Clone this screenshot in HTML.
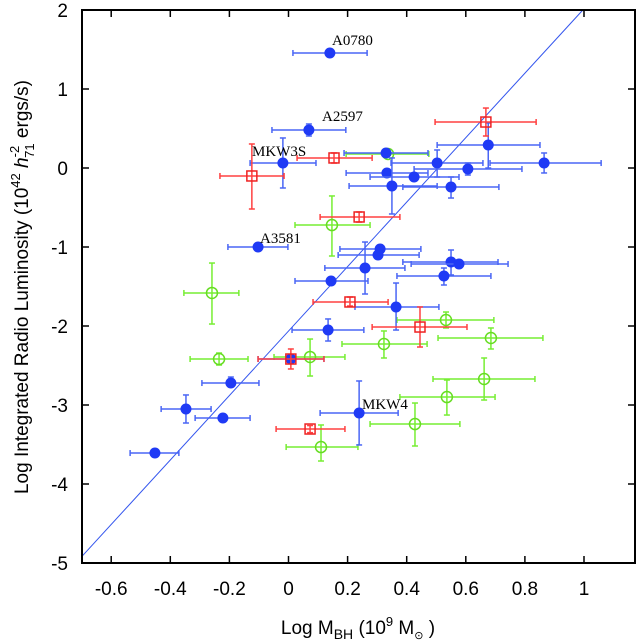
<!DOCTYPE html>
<html><head><meta charset="utf-8"><style>
body{margin:0;background:#fff}
svg{display:block;font-family:"Liberation Sans",sans-serif}
</style></head><body>
<svg id="chart" width="637" height="641" viewBox="0 0 637 641">
<rect x="0" y="0" width="637" height="641" fill="#fff"/>
<g id="ticks"></g>
<g id="fit"></g>
<g id="marks"></g>
<rect x="82" y="10" width="553" height="553" fill="none" stroke="#000" stroke-width="2"/>
<g font-family="Liberation Serif,serif" font-size="15" fill="#000">
<text x="332" y="45">A0780</text>
<text x="322" y="121">A2597</text>
<text x="252" y="156">MKW3S</text>
<text x="260" y="243">A3581</text>
<text x="362" y="409">MKW4</text>
</g>
<text x="358" y="634" text-anchor="middle" font-size="19">Log M<tspan font-size="14" dy="5">BH</tspan><tspan dy="-5"> (10</tspan><tspan font-size="13" dy="-8">9</tspan><tspan dy="8"> M</tspan><tspan font-size="11" dy="5">⊙</tspan><tspan dy="-5"> )</tspan></text>
<text transform="translate(28,287) rotate(-90)" text-anchor="middle" font-size="19">Log Integrated Radio Luminosity (10<tspan font-size="13" dy="-8">42</tspan><tspan dy="8" font-style="italic"> h</tspan><tspan font-size="13" dy="-9">-2</tspan><tspan font-size="13" dx="-12" dy="15">71</tspan><tspan dy="-6"> ergs/s)</tspan></text>
</svg>
<script>
const xTicks=[-0.6,-0.4,-0.2,0,0.2,0.4,0.6,0.8,1];
const xTickLabels=["-0.6","-0.4","-0.2","0","0.2","0.4","0.6","0.8","1"];
const yTicks=[2,1,0,-1,-2,-3,-4,-5];
const yTickLabels=["2","1","0","-1","-2","-3","-4","-5"];
const fitSlope=4.08, fitIntercept=-2.064;
// [x, y, xlo, xhi, ylo, yhi]
const blueData=[
[0.140,1.456,0.015,0.266,1.42,1.49],[0.069,0.481,-0.056,0.194,0.405,0.557],[-0.019,0.063,-0.130,0.093,-0.253,0.380],
[0.330,0.190,0.188,0.472,0.17,0.21],[0.676,0.291,0.503,0.851,0.0,0.570],[0.503,0.063,0.347,0.658,-0.114,0.228],
[0.865,0.063,0.682,1.058,-0.063,0.19],[0.607,-0.013,0.425,0.790,-0.089,0.063],[0.333,-0.063,0.195,0.472,-0.063,-0.063],
[0.425,-0.114,0.276,0.577,-0.114,-0.114],[0.350,-0.228,0.205,0.503,-0.582,0.127],[0.550,-0.241,0.387,0.712,-0.380,-0.114],
[-0.103,-1.0,-0.205,-0.002,-1.0,-1.0],[0.310,-1.025,0.174,0.448,-1.025,-1.025],[0.303,-1.101,0.168,0.442,-1.101,-1.101],
[0.259,-1.266,0.123,0.394,-1.595,-0.937],[0.550,-1.190,0.387,0.709,-1.354,-1.038],[0.577,-1.215,0.415,0.743,-1.215,-1.215],
[0.526,-1.367,0.367,0.685,-1.481,-1.266],[0.144,-1.430,0.022,0.269,-1.430,-1.430],[0.364,-1.759,0.225,0.509,-2.051,-1.456],
[0.134,-2.051,0.012,0.255,-2.19,-1.911],[0.008,-2.418,-0.103,0.120,-2.418,-2.418],[-0.195,-2.722,-0.293,-0.100,-2.759,-2.646],
[-0.347,-3.051,-0.431,-0.262,-3.228,-2.873],[-0.222,-3.165,-0.316,-0.130,-3.165,-3.165],[-0.452,-3.608,-0.536,-0.371,-3.608,-3.608],
[0.239,-3.101,0.107,0.371,-3.506,-2.696]];
const redData=[
[-0.124,-0.101,-0.232,-0.015,-0.519,0.304],[0.154,0.127,0.029,0.283,0.063,0.19],[0.668,0.582,0.496,0.838,0.405,0.759],
[0.239,-0.620,0.107,0.377,-0.684,-0.557],[0.208,-1.696,0.083,0.337,-1.747,-1.633],[0.008,-2.418,-0.103,0.120,-2.544,-2.291],
[0.445,-2.013,0.283,0.604,-2.266,-1.759],[0.073,-3.304,-0.042,0.191,-3.35,-3.26]];
const greenData=[
[0.337,0.177,0.195,0.475,0.16,0.2],[0.147,-0.722,0.022,0.276,-1.114,-0.354],[-0.259,-1.582,-0.354,-0.168,-1.975,-1.203],
[-0.235,-2.418,-0.333,-0.137,-2.494,-2.342],[0.073,-2.392,-0.049,0.191,-2.633,-2.165],[0.323,-2.228,0.181,0.469,-2.405,-2.063],
[0.533,-1.924,0.367,0.695,-2.025,-1.823],[0.685,-2.152,0.506,0.861,-2.291,-2.025],[0.662,-2.671,0.489,0.834,-2.937,-2.405],
[0.536,-2.899,0.377,0.699,-3.127,-2.684],[0.428,-3.241,0.276,0.580,-3.519,-2.975],[0.110,-3.532,-0.008,0.235,-3.709,-3.253]];

const NS="http://www.w3.org/2000/svg";
const X=v=>288.5+v*295.5, Y=v=>168-v*79;
function mk(tag,attrs,parent){const e=document.createElementNS(NS,tag);for(const k in attrs)e.setAttribute(k,attrs[k]);parent.appendChild(e);return e;}
const tg=document.getElementById('ticks');
xTicks.forEach((t,i)=>{
  const a=mk('line',{x1:X(t),x2:X(t),y1:563,y2:556,stroke:'#000','stroke-width':1.5},tg);
  
  
  const b=mk('line',{x1:X(t),x2:X(t),y1:10,y2:17,stroke:'#000','stroke-width':1.5},tg);
  
  
  const l=mk('text',{x:X(t),y:595,'text-anchor':'middle','font-size':19},tg);
  l.textContent=xTickLabels[i];
  
  
});
yTicks.forEach((t,i)=>{
  const a=mk('line',{x1:82,x2:89,y1:Y(t),y2:Y(t),stroke:'#000','stroke-width':1.5},tg);
  
  
  const b=mk('line',{x1:635,x2:628,y1:Y(t),y2:Y(t),stroke:'#000','stroke-width':1.5},tg);
  
  
  const l=mk('text',{x:68,y:Y(t)+7,'text-anchor':'end','font-size':19},tg);
  l.textContent=yTickLabels[i];
  
  
});
const fg=document.getElementById('fit');
const xa=-0.7, xb=(2-fitIntercept)/fitSlope;
const fl=mk('line',{x1:X(xa),y1:Y(fitSlope*xa+fitIntercept),x2:X(xb),y2:Y(2),stroke:'#3355ee','stroke-width':1},fg);


const mg=document.getElementById('marks');
function errbars(g,d,col){
  const cx=X(d[0]),cy=Y(d[1]);
  mk('line',{x1:X(d[2]),x2:X(d[3]),y1:cy,y2:cy,stroke:col,'stroke-width':1.5},g);
  mk('line',{x1:X(d[2]),x2:X(d[2]),y1:cy-3,y2:cy+3,stroke:col,'stroke-width':1.5},g);
  mk('line',{x1:X(d[3]),x2:X(d[3]),y1:cy-3,y2:cy+3,stroke:col,'stroke-width':1.5},g);
  if(Math.abs(d[4]-d[5])>0.001){
    mk('line',{x1:cx,x2:cx,y1:Y(d[4]),y2:Y(d[5]),stroke:col,'stroke-width':1.5},g);
    mk('line',{x1:cx-3,x2:cx+3,y1:Y(d[4]),y2:Y(d[4]),stroke:col,'stroke-width':1.5},g);
    mk('line',{x1:cx-3,x2:cx+3,y1:Y(d[5]),y2:Y(d[5]),stroke:col,'stroke-width':1.5},g);
  }
}
greenData.forEach(d=>{
  const g=mk('g',{},mg);
  
  
  errbars(g,d,'#77ee33');
  mk('circle',{cx:X(d[0]),cy:Y(d[1]),r:5.5,fill:'none',stroke:'#66dd22','stroke-width':1.5},g);
});
blueData.forEach(d=>{
  const g=mk('g',{},mg);
  
  
  errbars(g,d,'#4a66f5');
  mk('circle',{cx:X(d[0]),cy:Y(d[1]),r:5.5,fill:'#1f3af5'},g);
});
redData.forEach(d=>{
  const g=mk('g',{},mg);
  
  
  errbars(g,d,'#ff4040');
  mk('rect',{x:X(d[0])-5,y:Y(d[1])-5,width:10,height:10,fill:'none',stroke:'#ee2222','stroke-width':1.5},g);
});
</script>
</body></html>
